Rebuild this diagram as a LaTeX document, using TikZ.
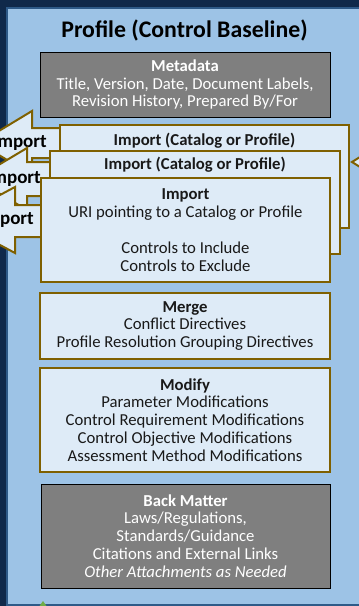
\documentclass[tikz,border=0pt]{standalone}
\usepackage{fontspec}
\setmainfont{Carlito}
\definecolor{navy}{HTML}{10294A}
\definecolor{panelborder}{HTML}{2E5A88}
\definecolor{panelfill}{HTML}{9DC3E6}
\definecolor{boxfill}{HTML}{DEEBF7}
\definecolor{gold}{HTML}{7F6000}
\definecolor{grayfill}{HTML}{7F7F7F}
\definecolor{tipgreen}{HTML}{70AD47}
\newcommand\bodyfs{\fontsize{16.7}{17.9}\selectfont}
\tikzset{
  goldbox/.style={draw=gold, line width=2pt, fill=boxfill, inner sep=0pt, align=center, text=black!90, font=\bodyfs},
  graybox/.style={draw=black, line width=0.8pt, fill=grayfill, inner sep=0pt, align=center, text=white, font=\bodyfs},
  arrowshape/.style={draw=gold, line width=2pt, fill=boxfill, line join=miter},
  arrowtext/.style={anchor=east, inner sep=0pt, font=\fontsize{19}{22}\selectfont\bfseries, text=black},
  headtext/.style={inner sep=0pt, font=\bodyfs\bfseries, text=black!90}
}
\begin{document}
\begin{tikzpicture}[x=1pt,y=-1pt]
\useasboundingbox (0,0) rectangle (359,606);
% background and panel
\fill[navy] (0,0) rectangle (359,606);
\draw[fill=panelfill, draw=panelborder, line width=2pt] (6.5,7.5) rectangle (375,605);
% title
\node[inner sep=0pt, font=\fontsize{23.8}{28}\selectfont\bfseries, text=black] (title) at (184.5,30) {Profile (Control Baseline)};
% metadata
\node[graybox, minimum width=290pt, minimum height=65pt] (meta) at (185,84.5)
  {\textbf{Metadata}\\Title, Version, Date, Document Labels,\\Revision History, Prepared By/For};
% right-hand arrow tip
\draw[arrowshape] (352,162) -- (368,152) -- (368,172) -- cycle;
% import arrow 1 and back box
\draw[arrowshape] (-21,143) -- (32,111) -- (32,128) -- (70,128) -- (70,158) -- (32,158) -- (32,175) -- cycle;
\node[arrowtext] (imp1) at (47,143) {Import};
\node[goldbox, minimum width=289pt, minimum height=103pt] (box1) at (204.5,176.5) {};
\node[headtext] (box1t) at (204.5,141) {Import (Catalog or Profile)};
% import arrow 2 and middle box
\draw[arrowshape] (-25,179) -- (27,148) -- (27,162) -- (60,162) -- (60,196) -- (27,196) -- (27,210) -- cycle;
\node[arrowtext] (imp2) at (41,179) {Import};
\node[goldbox, minimum width=290pt, minimum height=103pt] (box2) at (195,202.5) {};
\node[headtext] (box2t) at (195,165) {Import (Catalog or Profile)};
% import arrow 3 and front box
\draw[arrowshape] (-47,220) -- (15,187) -- (15,205) -- (50,205) -- (50,237) -- (15,237) -- (15,253) -- cycle;
\node[arrowtext] (imp3) at (34,220) {Import};
\node[goldbox, minimum width=289pt, minimum height=104pt] (box3) at (185.5,230)
  {\textbf{Import}\\URI pointing to a Catalog or Profile\\[17.9pt]Controls to Include\\Controls to Exclude};
% merge
\node[goldbox, minimum width=290pt, minimum height=66pt] (merge) at (185,326)
  {\textbf{Merge}\\Conflict Directives\\Profile Resolution Grouping Directives};
% modify
\node[goldbox, minimum width=290pt, minimum height=104pt] (modify) at (185,420)
  {\textbf{Modify}\\Parameter Modifications\\Control Requirement Modifications\\Control Objective Modifications\\Assessment Method Modifications};
% back matter
\node[graybox, minimum width=289pt, minimum height=104pt] (back) at (185.5,536)
  {\textbf{Back Matter}\\Laws/Regulations,\\Standards/Guidance\\Citations and External Links\\\textit{Other Attachments as Needed}};
% green tip at bottom
\fill[tipgreen] (43,601) -- (39.5,606) -- (46.5,606) -- cycle;
\end{tikzpicture}
\end{document}
